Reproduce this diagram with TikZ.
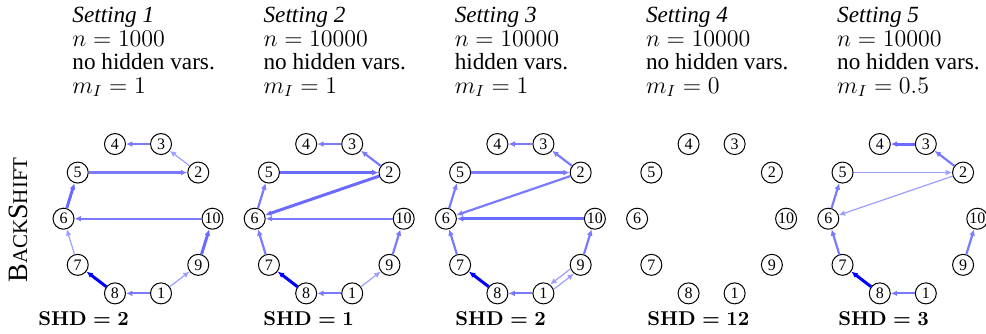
\documentclass[tikz,border=0pt]{standalone}
\usepackage{amsmath}
\usepackage{fontspec}
\setmainfont{Liberation Serif}
\usetikzlibrary{arrows.meta}

\begin{document}
\begin{tikzpicture}[x=0.5pt,y=-0.5pt]
\tikzset{vertex/.style = {shape=circle,draw,line width=0.5pt,minimum size=10.5pt,inner sep=0pt,font=\fontsize{8}{8}\selectfont}}
\tikzset{link/.style = {->,> = {Latex[length=3.2pt,width=2.9pt]}}}
\tikzset{thinedge/.style = {link,line width=0.6pt,draw=blue!38}}
\tikzset{midedge/.style = {link,line width=1.1pt,draw=blue!52}}
\tikzset{thickedge/.style = {link,line width=1.5pt,draw=blue!58}}
\tikzset{darkedge/.style = {link,line width=1.5pt,draw=blue}}
\tikzset{head/.style = {anchor=base west,inner sep=0pt,font=\fontsize{11.6}{12}\selectfont}}
\tikzset{score/.style = {anchor=base west,inner sep=0pt,font=\fontsize{10}{12}\selectfont\boldmath}}
\useasboundingbox (0,0) rectangle (986,333);
% vertices
\foreach \p in {1,...,5}{
  \pgfmathsetmacro\cx{138+191.2*(\p-1)}
  \foreach \v/\a in {10/0,2/36,3/72,4/108,5/144,6/180,7/216,8/252,1/288,9/324}
    \node[vertex] (s\p-\v) at ({\cx+74.5*cos(\a)},{218.7-78.5*sin(\a)}) {\v};
}
% settings
\foreach \p/\nn/\hv/\mi in {1/1000/no hidden vars./1,2/10000/no hidden vars./1,3/10000/hidden vars./1,4/10000/no hidden vars./0,5/10000/no hidden vars./0.5}{
  \pgfmathsetmacro\tx{72+191.2*(\p-1)}
  \node[head] (title\p) at (\tx,22.5) {\textit{Setting \p}};
  \node[head] (size\p) at (\tx,46) {$n=\nn$};
  \node[head] (hid\p) at (\tx,69.5) {\hv};
  \node[head] (int\p) at (\tx,93) {$m_I=\mi$};
}
\node[rotate=90,font=\fontsize{14}{14}\selectfont] (method) at (18,220)
  {B{\fontsize{10.5}{10.5}\selectfont ACK}S{\fontsize{10.5}{10.5}\selectfont HIFT}};
% scores
\node[score] (shd1) at (38,325) {$\mathbf{SHD}=\mathbf{2}$};
\node[score] (shd2) at (263,325) {$\mathbf{SHD}=\mathbf{1}$};
\node[score] (shd3) at (455,325) {$\mathbf{SHD}=\mathbf{2}$};
\node[score] (shd4) at (647,325) {$\mathbf{SHD}=\mathbf{12}$};
\node[score] (shd5) at (838,325) {$\mathbf{SHD}=\mathbf{3}$};
%edges
\foreach \a/\b/\w in {3/4/midedge,2/3/thinedge,5/2/midedge,6/5/thickedge,10/6/midedge,
  7/6/thinedge,8/7/darkedge,1/8/midedge,1/9/thinedge,9/10/thickedge}
  \path (s1-\a) edge[\w] (s1-\b);
\foreach \a/\b/\w in {3/4/midedge,2/3/midedge,5/2/thickedge,2/6/thickedge,6/5/midedge,
  10/6/midedge,7/6/midedge,8/7/darkedge,1/8/midedge,1/9/thinedge,9/10/midedge}
  \path (s2-\a) edge[\w] (s2-\b);
\foreach \a/\b/\w in {3/4/midedge,2/3/midedge,5/2/midedge,2/6/midedge,6/5/midedge,
  10/6/thickedge,7/6/midedge,8/7/darkedge,1/8/midedge,9/10/midedge}
  \path (s3-\a) edge[\w] (s3-\b);
\path (s3-1) edge[thinedge,transform canvas={shift={(1pt,-1.1pt)}}] (s3-9);
\path (s3-9) edge[thinedge,transform canvas={shift={(-1pt,1.1pt)}}] (s3-1);
\foreach \a/\b/\w in {3/4/thickedge,2/3/midedge,5/2/thinedge,2/6/thinedge,6/5/midedge,
  7/6/midedge,8/7/darkedge,1/8/midedge,9/10/midedge}
  \path (s5-\a) edge[\w] (s5-\b);
\end{tikzpicture}
\end{document}
